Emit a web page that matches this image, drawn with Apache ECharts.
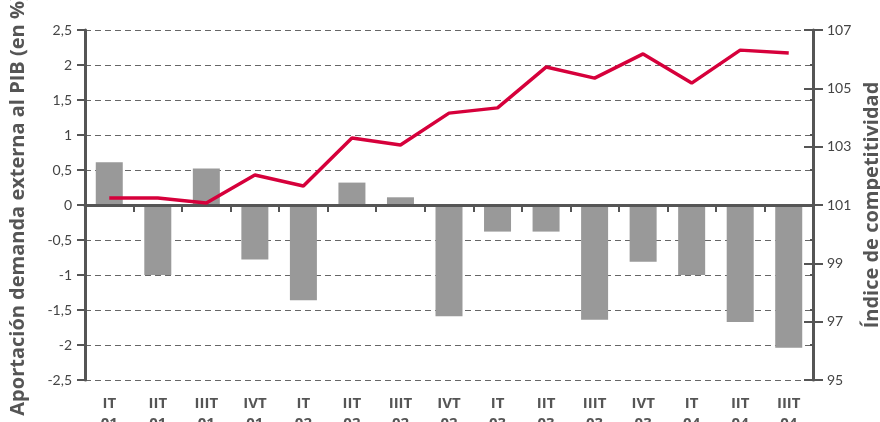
<!DOCTYPE html>
<html>
<head>
<meta charset="utf-8">
<script src="https://cdn.jsdelivr.net/npm/echarts@6/dist/echarts.min.js"></script>
<style>
  html, body { margin: 0; padding: 0; background: #fff; }
  #chart { width: 880px; height: 422px; }
</style>
</head>
<body>
<div id="chart"></div>
<script>
var categories = ['IT 01', 'IIT 01', 'IIIT 01', 'IVT 01', 'IT 02', 'IIT 02', 'IIIT 02', 'IVT 02',
                  'IT 03', 'IIT 03', 'IIIT 03', 'IVT 03', 'IT 04', 'IIT 04', 'IIIT 04'];
// aportacion demanda externa al PIB (en %), eje izquierdo
var aportacion = [0.61, -1.0, 0.52, -0.78, -1.36, 0.32, 0.11, -1.59,
                  -0.38, -0.38, -1.64, -0.81, -1.0, -1.67, -2.04];
// indice de competitividad, eje derecho
var competitividad = [101.24, 101.24, 101.07, 102.03, 101.65, 103.3, 103.06, 104.15,
                      104.33, 105.73, 105.35, 106.18, 105.18, 106.31, 106.21];

var axisColor = '#555';
var font = 'Lato';

var chart = echarts.init(document.getElementById('chart'));

var option = {
    animation: false,
    textStyle: { fontFamily: font },
    grid: { left: 85, right: 67, top: 30, bottom: 42, containLabel: false, outerBoundsMode: 'none' },
    xAxis: [
        {
            type: 'category',
            data: categories,
            z: 5,
            axisLine: { onZero: true, onZeroAxisIndex: 0, lineStyle: { color: axisColor, width: 3 } },
            axisTick: { show: true, length: 7, lineStyle: { color: axisColor, width: 2 } },
            axisLabel: { show: false },
            splitLine: { show: false }
        },
        {
            type: 'category',
            data: categories,
            position: 'bottom',
            axisLine: { show: false },
            axisTick: { show: false },
            axisLabel: {
                margin: 14,
                color: axisColor,
                fontFamily: 'Open Sans',
                fontWeight: 'bold',
                fontSize: 15,
                lineHeight: 20,
                formatter: function (v) { return v.split(' ').join('\n'); }
            }
        }
    ],
    yAxis: [
        {
            type: 'value',
            min: -2.5, max: 2.5, interval: 0.5,
            position: 'left',
            name: 'Aportación demanda externa al PIB (en %)',
            nameLocation: 'middle',
            nameGap: 57,
            nameTextStyle: { color: axisColor, fontFamily: 'Open Sans', fontWeight: 'bold', fontSize: 20 },
            axisLine: { show: true, lineStyle: { color: axisColor, width: 3 } },
            axisTick: { show: true, length: 8, lineStyle: { color: axisColor, width: 2 } },
            axisLabel: {
                margin: 13, color: '#444', fontSize: 14,
                formatter: function (v) { return String(v).replace('.', ','); }
            },
            splitLine: { show: true, lineStyle: { color: '#666', width: 1, type: [6, 4] } }
        },
        {
            type: 'value',
            min: 95, max: 107, interval: 2,
            position: 'right',
            name: 'Índice de competitividad',
            nameLocation: 'middle',
            nameGap: 46,
            nameTextStyle: { color: axisColor, fontFamily: 'Open Sans', fontWeight: 'bold', fontSize: 20 },
            axisLine: { show: true, lineStyle: { color: axisColor, width: 3 } },
            axisTick: { show: true, length: 10, lineStyle: { color: axisColor, width: 2 } },
            axisLabel: { margin: 14, color: '#444', fontSize: 14 },
            splitLine: { show: false }
        },
        {
            type: 'value',
            min: 95, max: 107, interval: 2,
            position: 'right',
            axisLine: { show: false },
            axisTick: { show: true, inside: true, length: 9, lineStyle: { color: axisColor, width: 2 } },
            axisLabel: { show: false },
            splitLine: { show: false }
        },
        {
            type: 'value',
            min: -2.5, max: 2.5, interval: 0.5,
            position: 'right',
            axisLine: { show: false },
            axisTick: { show: true, inside: true, length: 3, lineStyle: { color: axisColor, width: 2 } },
            axisLabel: { show: false },
            splitLine: { show: false }
        }
    ],
    series: [
        {
            name: 'Aportación demanda externa',
            type: 'bar',
            xAxisIndex: 0,
            yAxisIndex: 0,
            barWidth: 27,
            z: 2,
            itemStyle: { color: '#999999' },
            data: aportacion
        },
        {
            name: 'Índice de competitividad',
            type: 'line',
            xAxisIndex: 0,
            yAxisIndex: 1,
            z: 10,
            showSymbol: false,
            symbol: 'none',
            lineStyle: { color: '#d6003b', width: 3.5 },
            data: competitividad
        }
    ]
};

chart.setOption(option);
</script>
</body>
</html>
